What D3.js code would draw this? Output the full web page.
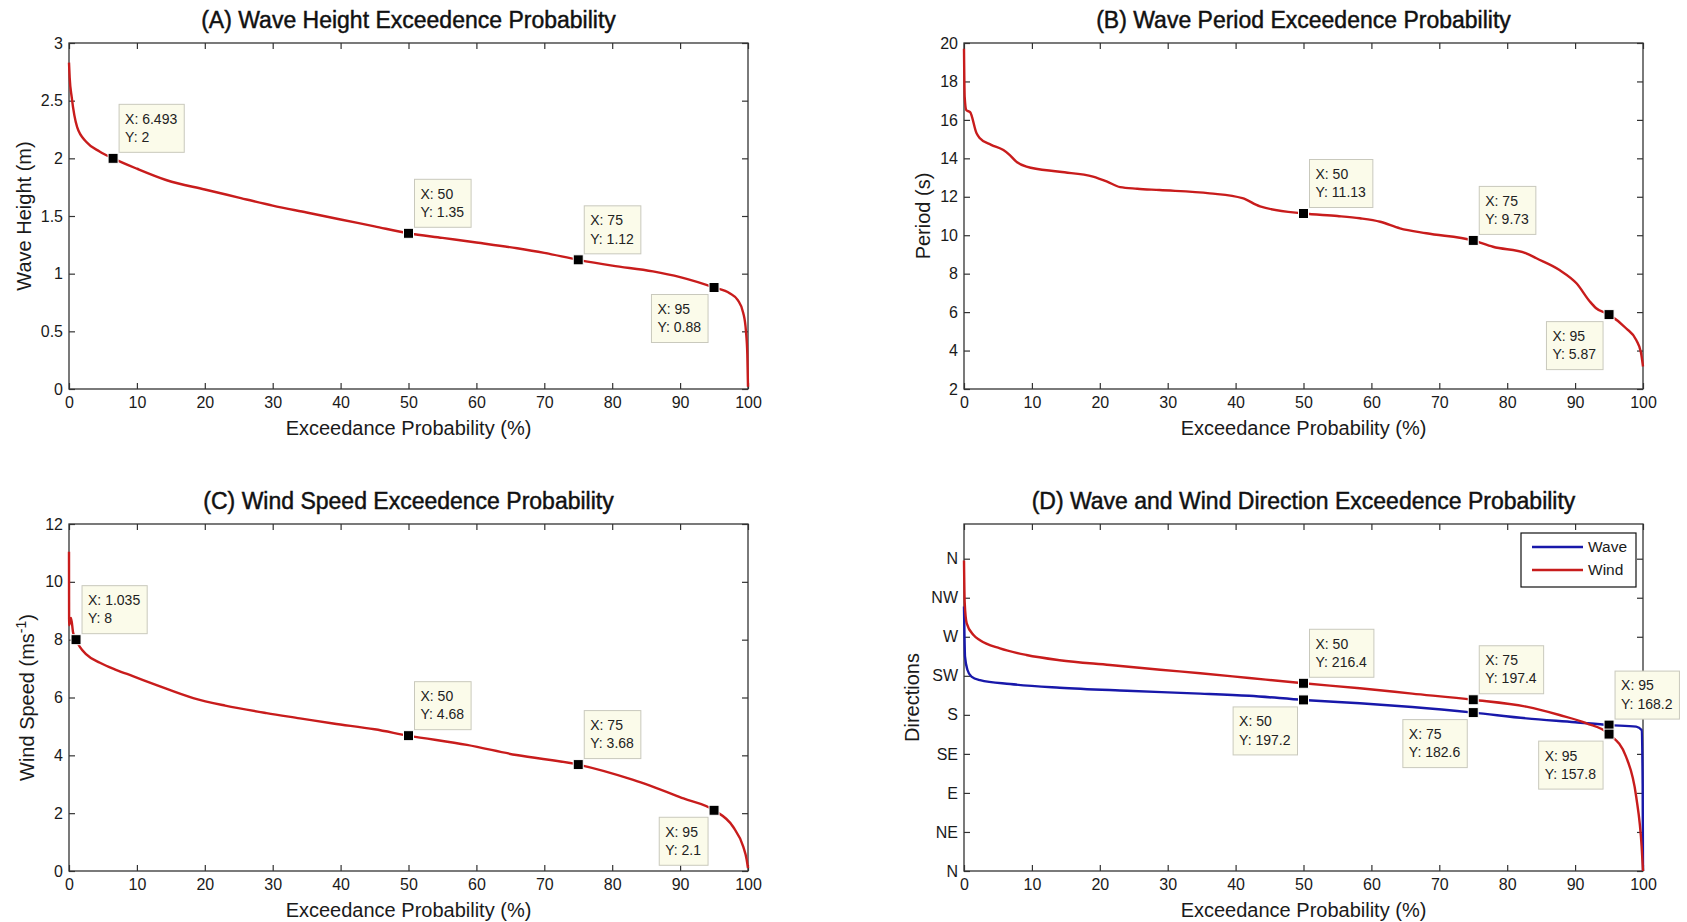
<!DOCTYPE html>
<html><head><meta charset="utf-8">
<script src="https://cdn.jsdelivr.net/npm/d3@7"></script>
<style>
body{margin:0;background:#fff}
svg{display:block}
text{font-family:"Liberation Sans",Arial,Helvetica,sans-serif}
</style>
</head><body>
<svg id="chart" width="1687" height="922"></svg>
<script>
// ---------------- DATA ----------------
const probTicks = [0, 10, 20, 30, 40, 50, 60, 70, 80, 90, 100];

// (A) Wave height
const waveHeightProb = [0, 0.1, 0.4, 1.2, 2.6, 4.5, 6.493, 10, 14.4, 20, 25, 30, 35, 40, 45, 50, 55, 60, 66, 70, 75, 80, 86, 90, 95, 97.3, 98.5, 99.3, 99.7, 99.9, 100];
const waveHeightVal  = [2.83, 2.7, 2.53, 2.27, 2.14, 2.06, 2.0, 1.91, 1.81, 1.73, 1.66, 1.59, 1.53, 1.47, 1.41, 1.35, 1.31, 1.27, 1.22, 1.18, 1.12, 1.07, 1.02, 0.97, 0.88, 0.83, 0.77, 0.66, 0.5, 0.3, 0.02];
const waveHeightTicks = [0, 0.5, 1, 1.5, 2, 2.5, 3];
const waveHeightTipX = [6.493, 50, 75, 95];
const waveHeightTipY = [2, 1.35, 1.12, 0.88];

// (B) Wave period
const wavePeriodProb = [0, 0.1, 0.35, 0.9, 1.85, 2.3, 4, 5.8, 6.75, 7.7, 9.2, 14.1, 19, 21, 23, 25.5, 28.8, 36.2, 41, 43.6, 50, 55, 58.3, 61.3, 64.2, 68.1, 75, 77.9, 82.8, 84.3, 87.7, 90.2, 92.2, 93.1, 95, 97.5, 99, 99.7, 100];
const wavePeriodVal  = [19.7, 17.2, 16.5, 16.4, 15.3, 15.06, 14.7, 14.43, 14.17, 13.83, 13.57, 13.3, 13.05, 12.8, 12.5, 12.42, 12.35, 12.18, 11.93, 11.5, 11.13, 11.0, 10.88, 10.7, 10.36, 10.1, 9.73, 9.4, 9.06, 8.8, 8.19, 7.5, 6.54, 6.2, 5.87, 5.16, 4.55, 3.9, 3.17];
const wavePeriodTicks = [2, 4, 6, 8, 10, 12, 14, 16, 18, 20];
const wavePeriodTipX = [50, 75, 95];
const wavePeriodTipY = [11.13, 9.73, 5.87];

// (C) Wind speed
const windSpeedProb = [0, 0.02, 0.3, 0.6, 1.035, 1.6, 2.5, 4.56, 7, 9.4, 13, 18.3, 23, 29.1, 34, 38.9, 45, 50, 58.6, 65.9, 75, 83.1, 90.5, 95, 97.8, 99.3, 99.8, 100];
const windSpeedVal  = [11.04, 8.5, 8.75, 8.25, 8.0, 7.75, 7.5, 7.2, 6.95, 6.74, 6.42, 5.98, 5.72, 5.46, 5.28, 5.1, 4.9, 4.68, 4.36, 4.01, 3.68, 3.15, 2.51, 2.1, 1.53, 0.84, 0.4, 0.1];
const windSpeedTicks = [0, 2, 4, 6, 8, 10, 12];
const windSpeedTipX = [1.035, 50, 75, 95];
const windSpeedTipY = [8, 4.68, 3.68, 2.1];

// (D) Directions (degrees)
const waveDirProb = [0, 0.05, 0.15, 0.5, 1.1, 2.36, 6.8, 14.1, 24, 33.8, 42, 50, 58.3, 66, 75, 82.8, 90, 95, 99, 99.8, 99.95, 100];
const waveDirVal  = [305, 280, 247, 232, 224, 220, 215.5, 211.3, 207.8, 204.8, 202, 197.2, 193.3, 189, 182.6, 176, 171.5, 168.2, 166.4, 162.5, 100, 0];
const windDirProb = [0, 0.1, 0.4, 1.4, 2.36, 5.3, 9.2, 14.1, 21.5, 28.9, 34.8, 42, 50, 58.3, 66, 75, 82.8, 87.7, 91.7, 95, 97.5, 99, 99.8, 100];
const windDirVal  = [358, 310, 285.5, 272, 266, 256.7, 249, 243, 237.5, 232, 228, 222.5, 216.4, 210.6, 204.5, 197.4, 189.4, 179.8, 170.2, 157.8, 131.8, 85.6, 28, 0];
const dirTicks = [0, 45, 90, 135, 180, 225, 270, 315, 360];
const dirTickLabels = ["N", "NE", "E", "SE", "S", "SW", "W", "NW", "N"];
const windDirTipX = [50, 75, 95];
const windDirTipY = [216.4, 197.4, 157.8];
const waveDirTipX = [50, 75, 95];
const waveDirTipY = [197.2, 182.6, 168.2];
const legendNames = ["Wave", "Wind"];

// ---------------- STYLE / LAYOUT ----------------
const RED = "#c81c1c", BLUE = "#1818aa", AXC = "#333";
const FONT = '"Liberation Sans",Arial,Helvetica,sans-serif';
const svg = d3.select("#chart");
svg.append("rect").attr("width", 1687).attr("height", 922).attr("fill", "#fff");

const zip = (a, b) => a.map((v, i) => [v, b[i]]);

const panels = [
  { title: "(A) Wave Height Exceedence Probability", ylabel: ["Wave Height (m)"], ylabX: 24,
    box: [69, 43, 748, 389], yDomain: [0, 3], yTicks: waveHeightTicks, yFmt: d => d,
    series: [{ data: zip(waveHeightProb, waveHeightVal), color: RED,
      tips: zip(waveHeightTipX, waveHeightTipY), sides: ["ne", "ne", "ne", "sw"] }] },
  { title: "(B) Wave Period Exceedence Probability", ylabel: ["Period (s)"], ylabX: 923,
    box: [964, 43, 1643, 389], yDomain: [2, 20], yTicks: wavePeriodTicks, yFmt: d => d,
    series: [{ data: zip(wavePeriodProb, wavePeriodVal), color: RED,
      tips: zip(wavePeriodTipX, wavePeriodTipY), sides: ["ne", "ne", "sw"] }] },
  { title: "(C) Wind Speed Exceedence Probability", ylabel: ["Wind Speed (ms", "-1", ")"], ylabX: 27,
    box: [69, 524, 748, 871], yDomain: [0, 12], yTicks: windSpeedTicks, yFmt: d => d,
    series: [{ data: zip(windSpeedProb, windSpeedVal), color: RED,
      tips: zip(windSpeedTipX, windSpeedTipY), sides: ["ne", "ne", "ne", "sw"] }] },
  { title: "(D) Wave and Wind Direction Exceedence Probability", ylabel: ["Directions"], ylabX: 912,
    box: [964, 524, 1643, 871], yDomain: [0, 400], yTicks: dirTicks, yFmt: (d, i) => dirTickLabels[i],
    legend: true,
    series: [
      { name: legendNames[0], data: zip(waveDirProb, waveDirVal), color: BLUE,
        tips: zip(waveDirTipX, waveDirTipY), sides: ["sw", "sw", "ne"] },
      { name: legendNames[1], data: zip(windDirProb, windDirVal), color: RED,
        tips: zip(windDirTipX, windDirTipY), sides: ["ne", "ne", "sw"] }
    ] }
];

function drawPanel(p) {
  const [x0, y0, x1, y1] = p.box;
  const g = svg.append("g");
  const x = d3.scaleLinear().domain([0, 100]).range([x0, x1]);
  const y = d3.scaleLinear().domain(p.yDomain).range([y1, y0]);

  const ax = g.append("g");
  ax.append("g").attr("transform", `translate(0,${y1})`)
    .call(d3.axisBottom(x).tickValues(probTicks).tickSizeInner(-6).tickSizeOuter(0).tickPadding(8));
  ax.append("g").attr("transform", `translate(0,${y0})`)
    .call(d3.axisTop(x).tickValues(probTicks).tickSizeInner(-6).tickSizeOuter(0).tickFormat(""));
  ax.append("g").attr("transform", `translate(${x0},0)`)
    .call(d3.axisLeft(y).tickValues(p.yTicks).tickSizeInner(-6).tickSizeOuter(0).tickPadding(6).tickFormat(p.yFmt));
  ax.append("g").attr("transform", `translate(${x1},0)`)
    .call(d3.axisRight(y).tickValues(p.yTicks).tickSizeInner(-6).tickSizeOuter(0).tickFormat(""));
  ax.selectAll(".domain").remove();
  ax.selectAll(".tick line").attr("stroke", AXC).attr("stroke-width", 1.2);
  ax.selectAll(".tick text").attr("font-size", 16).attr("fill", "#1a1a1a").attr("font-family", FONT);

  g.append("rect").attr("x", x0).attr("y", y0).attr("width", x1 - x0).attr("height", y1 - y0)
    .attr("fill", "none").attr("stroke", AXC).attr("stroke-width", 1.3);

  // title
  g.append("text").attr("x", (x0 + x1) / 2).attr("y", y0 - 15).attr("text-anchor", "middle")
    .attr("font-size", 23).attr("fill", "#111").attr("stroke", "#111").attr("stroke-width", 0.45)
    .text(p.title);
  // x label
  g.append("text").attr("x", (x0 + x1) / 2).attr("y", y1 + 46).attr("text-anchor", "middle")
    .attr("font-size", 20).attr("fill", "#1a1a1a").text("Exceedance Probability (%)");
  // y label
  const yl = g.append("text").attr("transform", `translate(${p.ylabX},${(y0 + y1) / 2}) rotate(-90)`)
    .attr("text-anchor", "middle").attr("dy", "0.35em").attr("font-size", 20).attr("fill", "#1a1a1a");
  yl.append("tspan").text(p.ylabel[0]);
  if (p.ylabel.length > 1) {
    yl.append("tspan").attr("dy", -8).attr("font-size", 14).text(p.ylabel[1]);
    yl.append("tspan").attr("dy", 8).text(p.ylabel[2]);
  }

  const line = d3.line().x(d => x(d[0])).y(d => y(d[1])).curve(d3.curveMonotoneX);
  p.series.forEach(s => {
    g.append("path").attr("d", line(s.data)).attr("fill", "none").attr("stroke", s.color)
      .attr("stroke-width", 2.4).attr("stroke-linejoin", "round");
  });
  // markers
  p.series.forEach(s => {
    s.tips.forEach(t => {
      g.append("rect").attr("x", x(t[0]) - 5).attr("y", y(t[1]) - 5).attr("width", 10).attr("height", 10)
        .attr("fill", "#000").attr("stroke", "#fff").attr("stroke-width", 1);
    });
  });
  // legend
  if (p.legend) {
    const lg = g.append("g");
    lg.append("rect").attr("x", 1521).attr("y", 533).attr("width", 115).attr("height", 54)
      .attr("fill", "#fff").attr("stroke", "#111").attr("stroke-width", 1.2);
    p.series.forEach((s, i) => {
      const ly = 547 + i * 23;
      lg.append("line").attr("x1", 1532).attr("x2", 1583).attr("y1", ly).attr("y2", ly)
        .attr("stroke", s.color).attr("stroke-width", 2.4);
      lg.append("text").attr("x", 1588).attr("y", ly).attr("dy", "0.35em").attr("font-size", 15.5)
        .attr("fill", "#1a1a1a").text(s.name);
    });
  }
  return { g, x, y };
}

const drawn = panels.map(drawPanel);

// datatips drawn last (on top)
panels.forEach((p, pi) => {
  const { x, y } = drawn[pi];
  p.series.forEach(s => {
    s.tips.forEach((t, i) => {
      const mx = x(t[0]), my = y(t[1]);
      const tg = svg.append("g");
      const bg = tg.append("rect");
      const l1 = tg.append("text").attr("font-size", 14).attr("fill", "#222").text("X: " + t[0]);
      const l2 = tg.append("text").attr("font-size", 14).attr("fill", "#222").text("Y: " + t[1]);
      const tw = Math.max(l1.node().getComputedTextLength(), l2.node().getComputedTextLength());
      const bw = tw + 13, bh = 48;
      let bx, by;
      if (s.sides[i] === "ne") { bx = mx + 6; by = my - 6 - bh; }
      else { bx = mx - 6 - bw; by = my + 7; }
      bg.attr("x", bx).attr("y", by).attr("width", bw).attr("height", bh)
        .attr("fill", "#fbfbea").attr("stroke", "#c9c9bd").attr("stroke-width", 1);
      l1.attr("x", bx + 6).attr("y", by + 14.5).attr("dy", "0.35em");
      l2.attr("x", bx + 6).attr("y", by + 32.8).attr("dy", "0.35em");
    });
  });
});
</script>
</body></html>
